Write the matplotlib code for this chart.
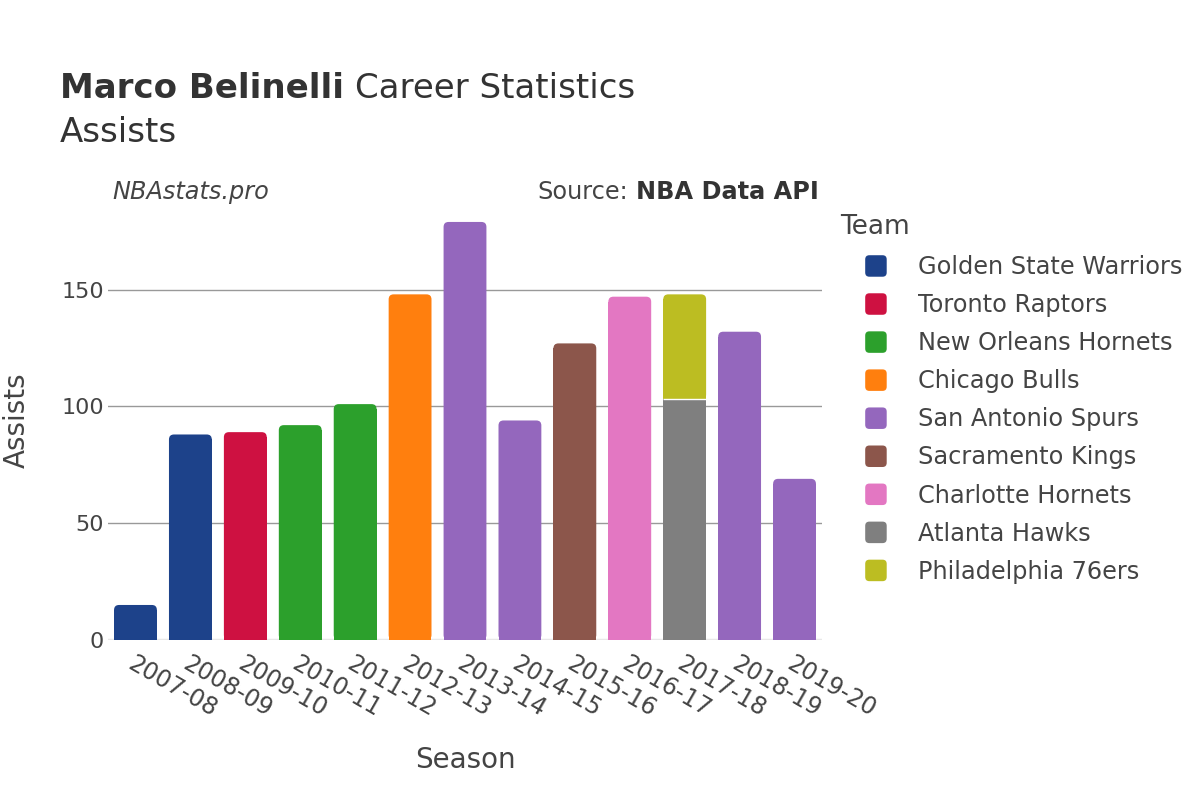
import matplotlib
matplotlib.use("Agg")
import matplotlib.pyplot as plt
from matplotlib.patches import FancyBboxPatch, Patch
from matplotlib.legend_handler import HandlerPatch

plt.rcParams['font.family'] = ['DejaVu Sans']

seasons = ["2007-08", "2008-09", "2009-10", "2010-11", "2011-12", "2012-13", "2013-14",
           "2014-15", "2015-16", "2016-17", "2017-18", "2018-19", "2019-20"]

teams = ["Golden State Warriors", "Toronto Raptors", "New Orleans Hornets", "Chicago Bulls",
         "San Antonio Spurs", "Sacramento Kings", "Charlotte Hornets", "Atlanta Hawks",
         "Philadelphia 76ers"]
team_colors = ["#1d428a", "#ce1141", "#2ca02c", "#ff7f0e", "#9467bd", "#8c564b",
               "#e377c2", "#7f7f7f", "#bcbd22"]

# one entry per bar segment, in stacking order
seg_season = [0, 1, 2, 3, 4, 5, 6, 7, 8, 9, 10, 10, 11, 12]
seg_team = ["Golden State Warriors", "Golden State Warriors", "Toronto Raptors",
            "New Orleans Hornets", "New Orleans Hornets", "Chicago Bulls",
            "San Antonio Spurs", "San Antonio Spurs", "Sacramento Kings",
            "Charlotte Hornets", "Atlanta Hawks", "Philadelphia 76ers",
            "San Antonio Spurs", "San Antonio Spurs"]
seg_assists = [15, 88, 89, 92, 101, 148, 179, 94, 127, 147, 103, 45, 132, 69]

text_c = "#444444"
color_of = dict(zip(teams, team_colors))

fig = plt.figure(figsize=(12, 8), dpi=100)
ax_rect = [0.09, 0.2, 0.595, 0.55]
ymax = 188.4
ax = fig.add_axes(ax_rect)
ax.set_xlim(-0.5, len(seasons) - 0.5)
ax.set_ylim(0, ymax)

width = 0.78
# px per data unit, so the corner radius stays round
x_px = ax_rect[2] * 1200 / len(seasons)
y_px = ax_rect[3] * 800 / ymax
r_px = 5
rx = r_px / x_px
ry = r_px / y_px

base = [0] * len(seasons)
last_seg = {}
for k, i in enumerate(seg_season):
    last_seg[i] = k

for k, (i, t, v) in enumerate(zip(seg_season, seg_team, seg_assists)):
    b = base[i]
    c = color_of[t]
    if last_seg[i] == k:
        # top segment gets rounded top corners
        ax.bar(i, v - ry, width=width, bottom=b, color=c, zorder=3, linewidth=0)
        fb = FancyBboxPatch((i - width / 2 + rx, b + ry), width - 2 * rx, v - 2 * ry,
                            boxstyle=f"round,pad={rx}", mutation_aspect=ry / rx,
                            facecolor=c, edgecolor="none", zorder=3)
        ax.add_patch(fb)
    else:
        ax.bar(i, v, width=width, bottom=b, color=c, zorder=4, linewidth=0)
        ax.hlines(b + v, i - width / 2, i + width / 2, color="white", linewidth=1, zorder=5)
    base[i] = b + v

ax.set_yticks([0, 50, 100, 150])
for yv in [50, 100, 150]:
    ax.axhline(yv, color="#999999", linewidth=1, zorder=1)
ax.axhline(0, color="#e8e8e8", linewidth=2.5, zorder=2)

ax.set_xticks(range(len(seasons)))
ax.set_xticklabels(seasons, rotation=-30, ha="left", va="top", rotation_mode="anchor",
                   fontsize=17, color=text_c)
ax.tick_params(axis="x", length=0, pad=8)
ax.tick_params(axis="y", length=0, pad=3, labelsize=16, labelcolor=text_c)
for s in ax.spines.values():
    s.set_visible(False)

ax.set_xlabel("Season", fontsize=20, color=text_c)
ax.xaxis.set_label_coords(0.5, -0.273)
ax.xaxis.label.set_va("center")
ax.set_ylabel("Assists", fontsize=20, color=text_c)
ax.yaxis.label.set_va("center")
ax.yaxis.set_label_coords(-0.128, 0.5)

# title
t1 = fig.text(0.05, 0.889, "Marco Belinelli", fontsize=24.5, fontweight="bold",
              color="#333333", va="center")
fig.canvas.draw()
bb = t1.get_window_extent()
fig.text(bb.x1 / 1200 + 0.009, 0.889, "Career Statistics", fontsize=24.5,
         color="#333333", va="center")
fig.text(0.05, 0.834, "Assists", fontsize=24.5, color="#333333", va="center")

fig.text(0.094, 0.76, "NBAstats.pro", fontsize=17.3, style="italic", color=text_c, va="center")
s1 = fig.text(0.682, 0.76, "NBA Data API", fontsize=17.3, fontweight="bold",
              color="#333333", va="center", ha="right")
fig.canvas.draw()
bb2 = s1.get_window_extent()
fig.text(bb2.x0 / 1200 - 0.006, 0.76, "Source:", fontsize=17.3, color=text_c,
         va="center", ha="right")


def rounded_handle(legend, orig_handle, xdescent, ydescent, width, height, fontsize):
    side = min(width, height)
    p = 3
    return FancyBboxPatch((-xdescent + p, -ydescent + p), side - 2 * p, side - 2 * p,
                          boxstyle=f"round,pad={p}")


handles = [Patch(facecolor=c, edgecolor="none") for c in team_colors]
leg = ax.legend(handles, teams, loc="upper left",
                bbox_to_anchor=(0.721, 0.681), bbox_transform=fig.transFigure,
                frameon=False, fontsize=17.3,
                handlelength=1.0, handleheight=1.0, handletextpad=1.2,
                labelspacing=0.585, borderaxespad=0, borderpad=0,
                handler_map={Patch: HandlerPatch(patch_func=rounded_handle)})
for txt in leg.get_texts():
    txt.set_color(text_c)
fig.text(0.7, 0.716, "Team", fontsize=19, color=text_c, va="center")

fig.savefig("out.png", dpi=100)
